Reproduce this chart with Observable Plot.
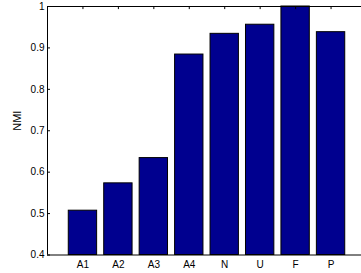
<!DOCTYPE html>
<html><head><meta charset="utf-8">
<script src="https://cdn.jsdelivr.net/npm/d3@7"></script>
<script src="https://cdn.jsdelivr.net/npm/@observablehq/plot@0.6"></script>
<style>body{margin:0;background:#fff}</style>
</head><body><div id="chart"></div>
<script>
const categories = ["A1", "A2", "A3", "A4", "N", "U", "F", "P"];
const values = [0.507, 0.573, 0.634, 0.884, 0.934, 0.956, 1.0, 0.938];
const yTicks = [0.4, 0.5, 0.6, 0.7, 0.8, 0.9, 1];
const yTickLabels = ["0.4", "0.5", "0.6", "0.7", "0.8", "0.9", "1"];
const yLabel = "NMI";

const positions = categories.map((_, i) => i + 1);
const data = categories.map((c, i) => ({cat: c, pos: i + 1, value: values[i]}));

const chart = Plot.plot({
  width: 361,
  height: 273,
  marginLeft: 47,
  marginRight: 0,
  marginTop: 6,
  marginBottom: 18.5,
  x: {domain: [0, 9], range: [47, 366]},
  y: {domain: [0.4, 1]},
  style: {fontFamily: "'Liberation Sans', Arial, sans-serif", fontSize: "10px", color: "#000", background: "#fff"},
  marks: [
    Plot.rect(data, {x1: d => d.pos - 0.4, x2: d => d.pos + 0.4, y1: () => 0.4, y2: "value", fill: "#00008f", stroke: "#000", strokeWidth: 1}),
    Plot.ruleY([0.4, 1], {stroke: "#000", strokeWidth: 1}),
    Plot.ruleX([0], {stroke: "#000", strokeWidth: 1}),
    Plot.ruleX(positions, {y1: () => 1, y2: () => 0.9925, stroke: "#000"}),
    Plot.ruleY(yTicks, {x1: () => 0, x2: () => 0.085, stroke: "#000"}),
    Plot.axisX({ticks: positions, tickFormat: d => categories[d - 1], tickSize: 0, tickPadding: 6, label: null, fontSize: 10}),
    Plot.axisY({ticks: yTicks, tickFormat: d => yTickLabels[yTicks.indexOf(d)], tickSize: 0, tickPadding: 3, label: null, fontSize: 10}),
    Plot.text([yLabel], {frameAnchor: "left", dx: -30, rotate: -90, fontSize: 11, fill: "#000"})
  ]
});
document.getElementById("chart").append(chart);
</script>
</body></html>
